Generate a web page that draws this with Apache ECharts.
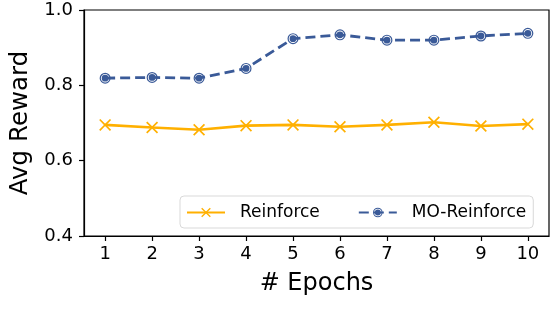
<!DOCTYPE html>
<html>
<head>
<meta charset="utf-8">
<script src="https://cdn.jsdelivr.net/npm/echarts@6/dist/echarts.min.js"></script>
<style>
  html, body { margin: 0; padding: 0; background: #fff; }
  #chart { width: 556px; height: 328px; }
</style>
</head>
<body>
<div id="chart"></div>
<script>
const epochs = [1, 2, 3, 4, 5, 6, 7, 8, 9, 10];
const reinforce = [0.695, 0.688, 0.682, 0.693, 0.695, 0.690, 0.695, 0.702, 0.692, 0.697];
const moReinforce = [0.819, 0.821, 0.819, 0.845, 0.924, 0.934, 0.920, 0.920, 0.931, 0.938];
const yTicks = [0.4, 0.6, 0.8, 1.0];

const orange = '#FFB000';
const blue = '#3A5A98';
const font = 'DejaVu Sans';

// x marker drawn as a thin cross
const crossPath = 'path://M1,0L5,4L9,0L10,1L6,5L10,9L9,10L5,6L1,10L0,9L4,5L0,1Z';
// filled dot with a thin white ring inside
const ringDot = 'path://M0,10A10,10 0 1,1 20,10A10,10 0 1,1 0,10Z' +
  'M2.2,10A7.8,7.8 0 1,0 17.8,10A7.8,7.8 0 1,0 2.2,10Z' +
  'M3.8,10A6.2,6.2 0 1,1 16.2,10A6.2,6.2 0 1,1 3.8,10Z';

const chart = echarts.init(document.getElementById('chart'), null, { renderer: 'canvas' });

chart.setOption({
  animation: false,
  textStyle: { fontFamily: font },
  grid: {
    left: 84, right: 7, top: 10, bottom: 92,
    show: true, borderColor: '#000', borderWidth: 1.2
  },
  legend: {
    left: 180, top: 196,
    padding: [8, 7, 7, 6],
    itemWidth: 38, itemHeight: 12, itemGap: 38,
    backgroundColor: '#fff',
    borderColor: '#d9d9d9', borderWidth: 1, borderRadius: 4,
    selectedMode: false,
    textStyle: { fontFamily: font, fontSize: 17, color: '#000', padding: [0, 0, 0, 10] },
    data: ['Reinforce', 'MO-Reinforce']
  },
  xAxis: {
    type: 'value',
    min: 0.55, max: 10.45,
    name: '# Epochs',
    nameLocation: 'middle',
    nameGap: 36,
    nameTextStyle: { fontFamily: font, fontSize: 24, color: '#000' },
    axisLine: { lineStyle: { color: '#000', width: 1.2 } },
    axisTick: { show: true, length: 5, customValues: epochs, lineStyle: { color: '#000', width: 1.2 } },
    axisLabel: { customValues: epochs, margin: 9, fontSize: 18, color: '#000', fontFamily: font },
    splitLine: { show: false }
  },
  yAxis: {
    type: 'value',
    min: 0.4, max: 1.0, interval: 0.2,
    name: 'Avg Reward',
    nameLocation: 'middle',
    nameGap: 45,
    nameTextStyle: { fontFamily: font, fontSize: 24.5, color: '#000' },
    axisLine: { show: true, lineStyle: { color: '#000', width: 1.2 } },
    axisTick: { show: true, length: 5, lineStyle: { color: '#000', width: 1.2 } },
    axisLabel: {
      margin: 11, fontSize: 18, color: '#000', fontFamily: font,
      formatter: v => yTicks.some(t => Math.abs(t - v) < 1e-6) ? v.toFixed(1) : ''
    },
    splitLine: { show: false }
  },
  series: [
    {
      name: 'Reinforce',
      type: 'line',
      data: epochs.map((e, i) => [e, reinforce[i]]),
      symbol: crossPath,
      symbolSize: 12,
      itemStyle: { color: orange },
      lineStyle: { color: orange, width: 2.6 },
      z: 3
    },
    {
      name: 'MO-Reinforce',
      type: 'line',
      data: epochs.map((e, i) => [e, moReinforce[i]]),
      symbol: ringDot,
      symbolSize: 11,
      itemStyle: { color: blue },
      lineStyle: { color: blue, width: 2.8, type: [10, 5] },
      z: 4
    }
  ]
});
</script>
</body>
</html>
